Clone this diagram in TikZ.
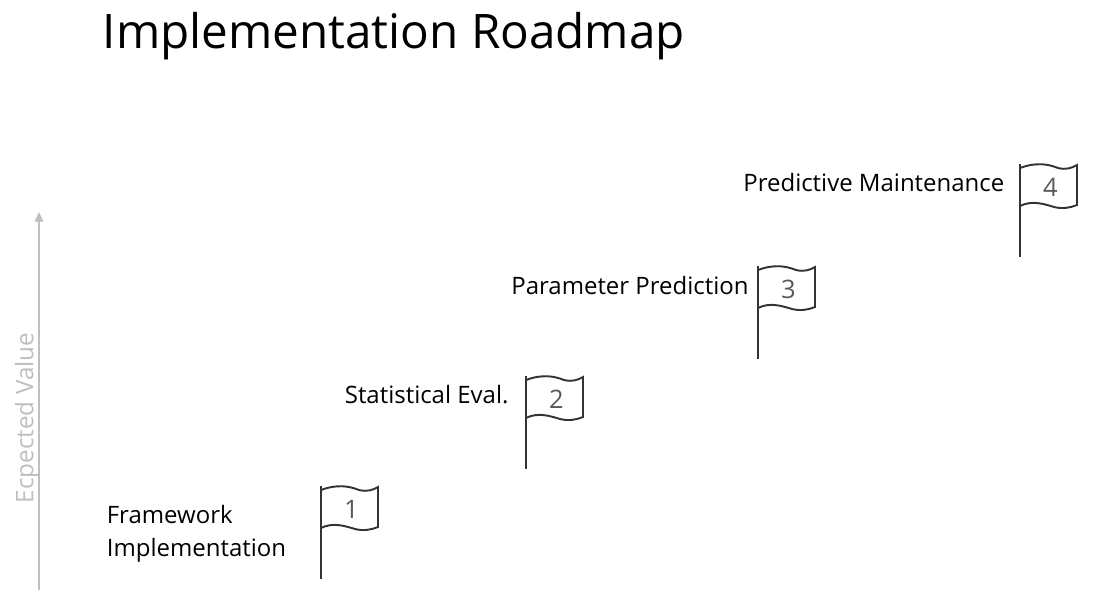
\documentclass[tikz,border=0pt]{standalone}
\usepackage{fontspec}
\setmainfont{Open Sans}
\usetikzlibrary{positioning,arrows.meta}
\definecolor{flagnum}{HTML}{595959}
\definecolor{axisgray}{HTML}{BFBFBF}
\tikzset{
  title/.style={font=\fontsize{27.1}{32}\selectfont,anchor=west,inner sep=0pt},
  milestone/.style={font=\fontsize{13.65}{18.7}\selectfont,anchor=west,inner sep=0pt,align=left},
  flagnumber/.style={font=\fontsize{14.5}{16}\selectfont,text=flagnum,inner sep=0pt},
  flagmark/.pic={
    \draw [line width=1.2pt,draw=black!80] (0,0) -- (0,93);
    \draw [line width=1.1pt,draw=black!80] (0,4) .. controls (16,-2) and (28,0) .. (38,4) .. controls (46,6) and (52,4) .. (57,1) -- (57,41) .. controls (50,44) and (42,45) .. (34,43) .. controls (24,40) and (12,36) .. (0,42);
    \node [flagnumber] (-num) at (30.5,23) {\tikzpictext};
  }
}
\begin{document}
\begin{tikzpicture}[x=0.02cm,y=-0.02cm]
\useasboundingbox (0,0) rectangle (1118,598);
\node [title] (head) at (102.5,36) {Implementation Roadmap};
% axis
\coordinate (axisbottom) at (39,590);
\coordinate (axistop) at (39,212);
\draw [line width=0.7pt,draw=axisgray,-{Triangle[length=5.5pt,width=5pt]}] (axisbottom) -- (axistop);
\node [font=\fontsize{13.8}{16}\selectfont,text=axisgray,rotate=90,inner sep=0pt] (axislabel) at (27,418) {Ecpected Value};
% flags
\pic [pic text=1] (flaga) at (321,486) {flagmark};
\pic [pic text=2] (flagb) at (526,376) {flagmark};
\pic [pic text=3] (flagc) at (758,266) {flagmark};
\pic [pic text=4] (flagd) at (1020,164) {flagmark};
% labels
\node [milestone] (frame) at (106.5,534) {Framework\\Implementation};
\node [milestone] (stat) at (344.5,395) {Statistical Eval.};
\node [milestone] (param) at (511,286) {Parameter Prediction};
\node [milestone] (pred) at (743,183) {Predictive Maintenance};
\end{tikzpicture}
\end{document}
